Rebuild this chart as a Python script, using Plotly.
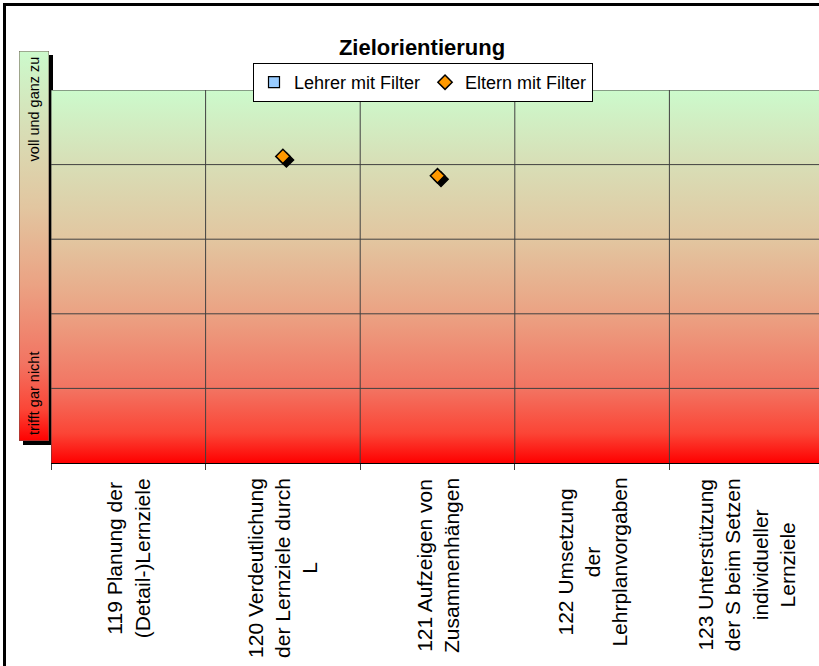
"""Zielorientierung - Lehrer/Eltern mit Filter."""

import plotly.graph_objects as go

W, H = 819, 666

categories = [
    "119 Planung der<br>(Detail-)Lernziele",
    "120 Verdeutlichung<br>der Lernziele durch<br>L",
    "121 Aufzeigen von<br>Zusammenhängen",
    "122 Umsetzung<br>der<br>Lehrplanvorgaben",
    "123 Unterstützung<br>der S beim Setzen<br>individueller<br>Lernziele",
]
lehrer = [None, None, None, None, None]
eltern = [None, 5.11, 4.85, None, None]
y_levels = [1, 2, 3, 4, 5, 6]
y_label_top = "voll und ganz zu"
y_label_bottom = "trifft gar nicht"
series_names = ["Lehrer mit Filter", "Eltern mit Filter"]
title_text = "Zielorientierung"

FONT = "Liberation Sans, Arial, sans-serif"
GRID = "#404040"
# light green at the top down to pure red at the bottom
gradient = [
    [0.0, "#ff0000"],
    [0.08, "#fb4536"],
    [0.2, "#f27462"],
    [0.4, "#eba283"],
    [0.6, "#e2c6a0"],
    [0.8, "#d8deb6"],
    [1.0, "#ccfacc"],
]

# plot area in pixels
px_left, px_right, px_top, px_bottom = 51, 824, 90, 463
x_lo = -0.5
x_hi = x_lo + len(categories) * (W - px_left) / (px_right - px_left)
y_lo, y_hi = y_levels[0], y_levels[-1]
x_unit = (px_right - px_left) / len(categories)
y_unit = (px_bottom - px_top) / (y_hi - y_lo)
shadow_px = 3.5

xs = list(range(len(categories)))

fig = go.Figure()

# gradient background of the plot area
fig.add_trace(
    go.Scatter(
        x=[x_lo, len(categories) - 0.5, len(categories) - 0.5, x_lo, x_lo],
        y=[y_lo, y_lo, y_hi, y_hi, y_lo],
        mode="lines",
        line=dict(width=0),
        fill="toself",
        fillgradient=dict(type="vertical", colorscale=gradient, start=y_lo, stop=y_hi),
        hoverinfo="skip",
        showlegend=False,
    )
)

# grid lines drawn above the gradient
gx, gy = [], []
for k in range(len(categories) + 1):
    gx += [k - 0.5, k - 0.5, None]
    gy += [y_lo, y_hi, None]
for level in y_levels[1:]:
    gx += [x_lo, len(categories) - 0.5, None]
    gy += [level, level, None]
fig.add_trace(
    go.Scatter(x=gx, y=gy, mode="lines", line=dict(color=GRID, width=1), hoverinfo="skip", showlegend=False)
)

fig.add_trace(
    go.Scatter(
        x=xs,
        y=lehrer,
        mode="markers",
        name=series_names[0],
        marker=dict(symbol="square", size=11, color="#99ccff", line=dict(color="black", width=1.2)),
    )
)

# drop shadow of the diamonds
fig.add_trace(
    go.Scatter(
        x=[x + shadow_px / x_unit for x in xs],
        y=[None if v is None else v - shadow_px / y_unit for v in eltern],
        mode="markers",
        marker=dict(symbol="diamond", size=11, color="black", line=dict(color="black", width=1.5)),
        hoverinfo="skip",
        showlegend=False,
    )
)
fig.add_trace(
    go.Scatter(
        x=xs,
        y=eltern,
        mode="markers",
        name=series_names[1],
        marker=dict(symbol="diamond", size=11, color="#ff9900", line=dict(color="black", width=1.5)),
    )
)

# gradient box holding the scale labels
fig.add_trace(
    go.Scatter(
        x=[0, 1, 1, 0, 0],
        y=[0, 0, 1, 1, 0],
        xaxis="x2",
        yaxis="y2",
        mode="lines",
        line=dict(color="#6e5a52", width=1),
        fill="toself",
        fillgradient=dict(type="vertical", colorscale=gradient, start=0, stop=1),
        hoverinfo="skip",
        showlegend=False,
    )
)

box = dict(x0=19, x1=49, y0=51, y1=441)
fig.add_shape(
    type="rect",
    xref="paper",
    yref="paper",
    x0=(box["x0"] + 4) / W,
    x1=(box["x1"] + 4) / W,
    y0=1 - (box["y1"] + 4) / H,
    y1=1 - (box["y0"] + 4) / H,
    fillcolor="black",
    line=dict(width=0),
    layer="below",
)
# chart frame: only its left and top edges fall inside the picture
fig.add_shape(
    type="line", xref="paper", yref="paper",
    x0=4.5 / W, x1=4.5 / W, y0=0, y1=1 - 3 / H,
    line=dict(color="black", width=3), layer="above",
)
fig.add_shape(
    type="line", xref="paper", yref="paper",
    x0=3 / W, x1=1, y0=1 - 4.5 / H, y1=1 - 4.5 / H,
    line=dict(color="black", width=3), layer="above",
)

fig.add_annotation(
    xref="x2", yref="y2", x=0.5, y=0.99, text=y_label_top, textangle=-90,
    showarrow=False, xanchor="center", yanchor="top", font=dict(family=FONT, size=14.5, color="black"),
)
fig.add_annotation(
    xref="x2", yref="y2", x=0.5, y=0.01, text=y_label_bottom, textangle=-90,
    showarrow=False, xanchor="center", yanchor="bottom", font=dict(family=FONT, size=14.5, color="black"),
)

# category labels, lines centred like the original
for i, label in enumerate(categories):
    fig.add_annotation(
        x=xs[i], xref="x", y=1 - 476 / H, yref="paper", text=label, textangle=-90,
        showarrow=False, xanchor="center", yanchor="top", align="center",
        font=dict(family=FONT, size=21, color="black"),
    )

fig.update_layout(
    width=W,
    height=H,
    margin=dict(l=0, r=0, t=0, b=0),
    paper_bgcolor="white",
    plot_bgcolor="rgba(0,0,0,0)",
    font=dict(family=FONT, color="black"),
    title=dict(
        text=f"<b>{title_text}</b>",
        x=422 / W,
        xanchor="center",
        y=1 - 47 / H,
        yanchor="middle",
        font=dict(family=FONT, size=22, color="black"),
    ),
    showlegend=True,
    legend=dict(
        orientation="h",
        x=253 / W,
        xanchor="left",
        y=1 - 63 / H,
        yanchor="top",
        bgcolor="white",
        bordercolor="black",
        borderwidth=1,
        font=dict(family=FONT, size=18, color="black"),
        itemwidth=30,
        tracegroupgap=0,
    ),
    xaxis=dict(
        domain=[px_left / W, 1],
        range=[x_lo, x_hi],
        tickmode="array",
        tickvals=xs,
        showticklabels=False,
        ticks="",
        showgrid=False,
        zeroline=False,
        showline=True,
        linecolor="black",
        linewidth=1,
        minor=dict(
            tickmode="array",
            tickvals=[k - 0.5 for k in range(len(categories) + 1)],
            ticks="outside",
            ticklen=6,
            tickcolor=GRID,
            showgrid=False,
        ),
        fixedrange=True,
    ),
    yaxis=dict(
        domain=[1 - px_bottom / H, 1 - px_top / H],
        range=[y_lo, y_hi],
        showticklabels=False,
        showgrid=False,
        zeroline=False,
        showline=False,
        ticks="",
        fixedrange=True,
    ),
    xaxis2=dict(
        domain=[box["x0"] / W, box["x1"] / W],
        range=[0, 1],
        anchor="y2",
        visible=False,
        fixedrange=True,
    ),
    yaxis2=dict(
        domain=[1 - box["y1"] / H, 1 - box["y0"] / H],
        range=[0, 1],
        anchor="x2",
        visible=False,
        fixedrange=True,
    ),
)

# the page gets no body margin so the figure sits at the window origin
fig.write_html(
    "out.html",
    config={"displayModeBar": False},
    post_script="document.body.style.margin = '0';",
)
